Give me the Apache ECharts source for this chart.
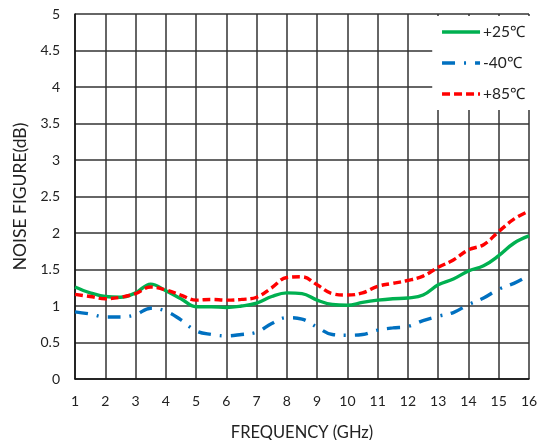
<!DOCTYPE html>
<html><head><meta charset="utf-8">
<script src="https://cdn.jsdelivr.net/npm/echarts@6/dist/echarts.min.js"></script>
<style>html,body{margin:0;padding:0;background:#fff}#c{width:543px;height:440px}</style>
</head><body><div id="c"></div>
<script>
const freq = [1,1.5,2,2.5,3,3.5,4,4.5,5,5.5,6,6.5,7,7.5,8,8.5,9,9.5,10,10.5,11,11.5,12,12.5,13,13.5,14,14.5,15,15.5,16];
const nf25 = [1.26,1.18,1.13,1.12,1.18,1.30,1.21,1.10,0.99,0.99,0.98,1.00,1.04,1.13,1.18,1.17,1.08,1.02,1.01,1.05,1.08,1.10,1.11,1.15,1.29,1.37,1.48,1.55,1.69,1.86,1.96];
const nfM40 = [0.92,0.89,0.85,0.85,0.88,0.97,0.93,0.81,0.66,0.61,0.59,0.61,0.64,0.76,0.84,0.82,0.71,0.61,0.60,0.61,0.67,0.70,0.72,0.80,0.86,0.91,1.02,1.11,1.23,1.31,1.42];
const nf85 = [1.16,1.13,1.10,1.12,1.17,1.26,1.22,1.15,1.08,1.09,1.08,1.09,1.12,1.25,1.39,1.40,1.29,1.17,1.15,1.18,1.27,1.31,1.35,1.41,1.53,1.63,1.77,1.84,2.02,2.19,2.30];
const names = ['+25℃','-40℃','+85℃'];
const xTicks = {min:1,max:16,interval:1};
const yTicks = {min:0,max:5,interval:0.5};

const font = 'Lato, "Open Sans", sans-serif';
const pair = a => freq.map((f,i)=>[f,a[i]]);
const chart = echarts.init(document.getElementById('c'));
chart.setOption({
  animation:false,
  backgroundColor:'#fff',
  grid:{left:75,right:14,top:14,bottom:61,containLabel:false,outerBoundsMode:'none'},
  xAxis:{type:'value',min:xTicks.min,max:xTicks.max,interval:xTicks.interval,
    name:'FREQUENCY (GHz)',nameLocation:'middle',nameGap:45,
    nameTextStyle:{color:'#222',fontSize:16.5,fontFamily:font},
    axisLine:{lineStyle:{color:'#111',width:1.5}},axisTick:{show:false},
    axisLabel:{color:'#222',fontSize:14,fontFamily:font,margin:15},
    splitLine:{show:true,lineStyle:{color:'#333',width:1.5}}},
  yAxis:{type:'value',min:yTicks.min,max:yTicks.max,interval:yTicks.interval,
    name:'NOISE FIGURE(dB)',nameLocation:'middle',nameGap:42,
    nameTextStyle:{color:'#222',fontSize:17.5,fontFamily:font},
    axisLine:{show:true,lineStyle:{color:'#111',width:1.5}},axisTick:{show:false},
    axisLabel:{color:'#222',fontSize:14,fontFamily:font,margin:15},
    splitLine:{show:true,lineStyle:{color:'#333',width:1.5}}},
  legend:{orient:'vertical',right:12,top:16,backgroundColor:'#fff',padding:[8,6,8,8],
    itemWidth:38,itemHeight:15,itemGap:15,
    itemStyle:{opacity:0},
    lineStyle:{width:3.6},
    textStyle:{color:'#222',fontSize:15.5,fontFamily:font,padding:[0,0,0,-2]},
    data:names},
  series:[
    {name:names[0],type:'line',data:pair(nf25),smooth:0.4,symbol:'none',z:3,
      lineStyle:{color:'#00B050',width:3.4,type:'solid'},itemStyle:{color:'#00B050'}},
    {name:names[1],type:'line',data:pair(nfM40),smooth:0.4,symbol:'none',z:2,
      lineStyle:{color:'#0070C0',width:3.4,type:[13,9,2,9]},itemStyle:{color:'#0070C0'}},
    {name:names[2],type:'line',data:pair(nf85),smooth:0.4,symbol:'none',z:4,
      lineStyle:{color:'#FF0000',width:3.4,type:[8,4]},itemStyle:{color:'#FF0000'}}
  ]
});
</script></body></html>
